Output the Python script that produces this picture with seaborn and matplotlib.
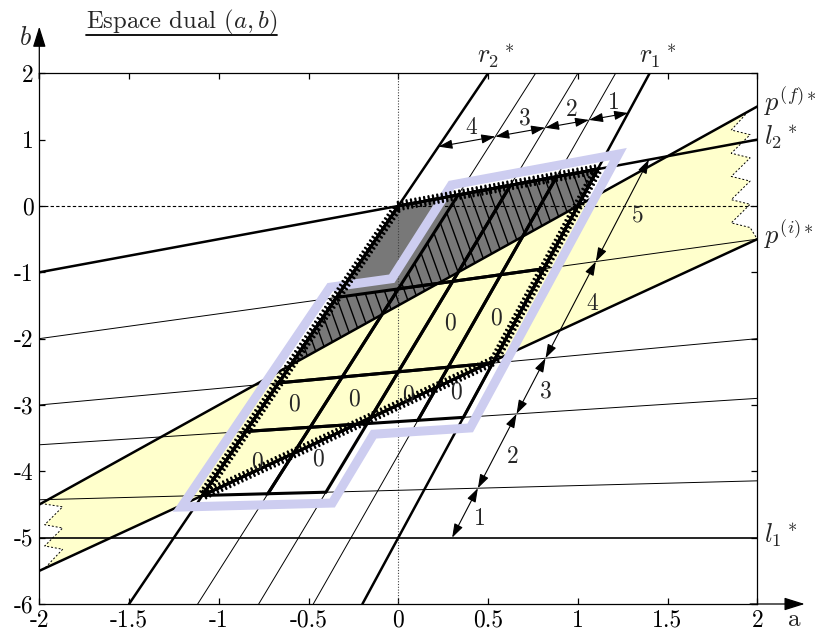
import numpy as np
import pandas as pd
import seaborn as sns
import matplotlib.pyplot as plt
import matplotlib.patheffects as pe
from matplotlib.patches import Polygon
from matplotlib.lines import Line2D
from matplotlib.collections import LineCollection

# === 1. Droites duales : b = pente * a + ordonnee ===
# faisceau r : r1*, ..., r2*
r_slope = [5.0, 4.75, 4.5, 4.25, 4.0]
r_icpt = [-5.0, -3.75, -2.5, -1.25, 0.0]
# faisceau l : l1*, ..., l2*
l_slope = [0.0, 0.0714, 0.175, 0.25, 0.375, 0.5]
l_icpt = [-5.0, -4.286, -3.25, -2.5, -1.25, 0.0]
# bande p(i)* / p(f)*
pf_line = [1.5, -1.5]
pi_line = [1.25, -3.0]
# droites qui portent les fleches cotees
r_arrow_line = [0.48, 0.787]
l_arrow_line = [5.2, -6.56]
r_arrow_labels = ["1", "2", "3", "4"]
l_arrow_labels = ["1", "2", "3", "4", "5"]

# cellules de la grille (bande r, bande l) et cellules marquees "0"
cells = [(3, 1), (2, 1),
         (0, 2), (1, 2), (2, 2), (3, 2),
         (0, 3), (1, 3), (2, 3), (3, 3),
         (0, 4), (1, 4), (2, 4)]
zero_cells = [(3, 1), (2, 1), (0, 2), (1, 2), (2, 2), (3, 2), (0, 3), (1, 3)]
# contour de la grille (indice r, indice l)
outline = [(4, 1), (2, 1), (2, 2), (0, 2), (0, 5), (3, 5), (3, 4), (4, 4)]

a_ticks = [-2, -1.5, -1, -0.5, 0, 0.5, 1, 1.5, 2]
a_labels = ["-2", "-1.5", "-1", "-0.5", "0", "0.5", "1", "1.5", "2"]
b_ticks = [-6, -5, -4, -3, -2, -1, 0, 1, 2]
b_labels = ["-6", "-5", "-4", "-3", "-2", "-1", "0", "1", "2"]


def meet(m1, c1, m2, c2):
    a = (c2 - c1) / (m1 - m2)
    return (a, m1 * a + c1)


def rl(i, j):
    return meet(r_slope[i], r_icpt[i], l_slope[j], l_icpt[j])


def pf(a):
    return pf_line[0] * a + pf_line[1]


def pi(a):
    return pi_line[0] * a + pi_line[1]


sns.set_style("ticks")
plt.rcParams["font.family"] = ["cmr10", "DejaVu Serif"]
plt.rcParams["mathtext.fontset"] = "cm"
plt.rcParams["axes.unicode_minus"] = False
plt.rcParams["axes.linewidth"] = 0.9
plt.rcParams["axes.edgecolor"] = "black"

FS = 17

fig = plt.figure(figsize=(8.16, 6.37), dpi=100)
ax = fig.add_axes([39.3 / 816, 33 / 637, 718 / 816, 530.7 / 637])

# === 2. Familles de droites (seaborn) ===
rows = []
for k, (m, c) in enumerate(zip(r_slope, r_icpt)):
    for b in (-6, 2):
        rows.append((f"r{k}", (b - c) / m, b))
for k, (m, c) in enumerate(zip(l_slope, l_icpt)):
    for a in (-2, 2):
        rows.append((f"l{k}", a, m * a + c))
for name, (m, c) in [("pf", pf_line), ("pi", pi_line)]:
    for a in (-2, 2):
        rows.append((name, a, m * a + c))
lines = pd.DataFrame(rows, columns=["name", "a", "b"])

thick = ["r0", "r4", "l5", "pf", "pi"]
medium = ["l0"]
thin = lines[~lines["name"].isin(thick + medium)]
for sub, lw, z in [(thin, 0.7, 3), (lines[lines["name"].isin(medium)], 1.2, 3.2),
                   (lines[lines["name"].isin(thick)], 1.8, 3.5)]:
    sns.lineplot(data=sub, x="a", y="b", units="name", estimator=None, sort=False,
                 color="black", linewidth=lw, zorder=z, ax=ax, legend=False)

ax.set_xlim(-2, 2)
ax.set_ylim(-6, 2)
ax.set_xlabel("")
ax.set_ylabel("")

# === 3. Bande jaune avec bords dechires ===
b0 = pf(1.95)
right_zig = [(1.95, b0)]
for k in range(1, 6):
    right_zig += [(1.855, b0 - 0.35 * k + 0.07), (1.96, b0 - 0.35 * k)]
right_zig.append((2.0, pi(2.0)))
b0 = pf(-1.99)
left_zig = [(-1.99, b0)]
for k in range(3):
    left_zig += [(-1.87, b0 - 0.32 * k - 0.05), (-1.97, b0 - 0.32 * (k + 1))]
left_zig[-1] = (-1.97, pi(-1.97))
band = [left_zig[0]] + right_zig + left_zig[::-1][:-1]
ax.add_patch(Polygon(band, closed=True, facecolor="#ffffcc", edgecolor="none", zorder=1))
for zz in (right_zig, left_zig):
    zz = np.array(zz)
    ax.plot(zz[:, 0], zz[:, 1], color="black", lw=0.7, ls=(0, (2, 2)), zorder=1.2)

# === 4. Region grise et hachures ===
g_low = meet(r_slope[4], r_icpt[4], *pf_line)
g_right = meet(r_slope[0], r_icpt[0], *pf_line)
gray = [g_low, rl(4, 5), rl(0, 5), g_right]
ax.add_patch(Polygon(gray, closed=True, facecolor="#787878", edgecolor="none", zorder=1.5))
hatch_poly = [g_low, rl(4, 4), rl(3, 4), rl(3, 5), rl(0, 5), g_right]
hp = Polygon(hatch_poly, closed=True, fill=False, lw=0, zorder=1.6)
ax.add_patch(hp)
segs = []
for a0 in np.arange(-1.2, 2.0, 0.056):
    segs.append([(a0 + 1.0 / -7.5, 1.0), (a0 + -3.0 / -7.5, -3.0)])
lc = LineCollection(segs, colors="black", linewidths=1.0, zorder=1.6)
ax.add_collection(lc)
lc.set_clip_path(hp)

# pointilles des axes a=0 et b=0
ax.axvline(0, color="0.25", lw=0.8, ls=(0, (1, 1.5)), zorder=2)
ax.axhline(0, color="black", lw=0.8, ls=(0, (3, 2)), zorder=2)

# === 5. Grille epaisse et zeros ===
for i, j in cells:
    quad = [rl(i, j), rl(i + 1, j), rl(i + 1, j + 1), rl(i, j + 1)]
    ax.add_patch(Polygon(quad, closed=True, fill=False, edgecolor="black",
                         lw=2.2, joinstyle="miter", zorder=4))
for i, j in zero_cells:
    quad = np.array([rl(i, j), rl(i + 1, j), rl(i + 1, j + 1), rl(i, j + 1)])
    ca, cb = quad.mean(axis=0)
    ax.text(ca, cb, "0", ha="center", va="center", fontsize=FS, zorder=8)

# contour mauve decale vers l'exterieur
P = ax.transData.transform(np.array([rl(i, j) for i, j in outline]))
n = len(P)
area = 0.5 * np.sum(P[:, 0] * np.roll(P[:, 1], -1) - np.roll(P[:, 0], -1) * P[:, 1])
sgn = 1 if area > 0 else -1
offs = []
for k in range(n):
    p, q = P[k], P[(k + 1) % n]
    u = (q - p) / np.linalg.norm(q - p)
    offs.append((p + 11 * sgn * np.array([u[1], -u[0]]), u))
ring = []
for k in range(n):
    (p1, u1), (p2, u2) = offs[k - 1], offs[k]
    s, t = np.linalg.solve(np.array([u1, -u2]).T, p2 - p1)
    ring.append(p1 + s * u1)
ring = ax.transData.inverted().transform(np.array(ring))
ax.add_patch(Polygon(ring, closed=True, fill=False, edgecolor="#cdcdf0",
                     lw=6.5, joinstyle="miter", zorder=5))

# quadrilatere a traits hachures
quad = [meet(r_slope[4], r_icpt[4], *pi_line), meet(r_slope[0], r_icpt[0], *pi_line),
        rl(0, 5), rl(4, 5)]
quad = np.array(quad + [quad[0]])
ax.plot(quad[:, 0], quad[:, 1], color="black", lw=2.0, zorder=6,
        solid_joinstyle="miter",
        path_effects=[pe.withTickedStroke(angle=90, spacing=3.2, length=0.95, linewidth=1.6),
                      pe.withTickedStroke(angle=-90, spacing=3.2, length=0.95, linewidth=1.6),
                      pe.Normal()])

# === 6. Fleches cotees ===
arrow_kw = dict(arrowstyle="<|-|>,head_length=0.6,head_width=0.2", color="black",
                lw=0.8, shrinkA=0, shrinkB=0, mutation_scale=14)
pts = [meet(r_slope[k], r_icpt[k], *r_arrow_line) for k in range(len(r_slope))]
for k, lab in enumerate(r_arrow_labels):
    ax.annotate("", xy=pts[k + 1], xytext=pts[k], arrowprops=arrow_kw, zorder=7)
    mid = ((pts[k][0] + pts[k + 1][0]) / 2, (pts[k][1] + pts[k + 1][1]) / 2)
    ax.annotate(lab, xy=mid, xytext=(3.5, 10), textcoords="offset points",
                ha="center", va="center", fontsize=FS, zorder=8)
pts = [meet(l_slope[k], l_icpt[k], *l_arrow_line) for k in range(len(l_slope))]
fracs = [0.5, 0.5, 0.5, 0.62, 0.5]
for k, lab in enumerate(l_arrow_labels):
    ax.annotate("", xy=pts[k + 1], xytext=pts[k], arrowprops=arrow_kw, zorder=7)
    f = fracs[k]
    mid = (pts[k][0] + f * (pts[k + 1][0] - pts[k][0]), pts[k][1] + f * (pts[k + 1][1] - pts[k][1]))
    ax.annotate(lab, xy=mid, xytext=(11, -4), textcoords="offset points",
                ha="center", va="center", fontsize=FS, zorder=8)

# === 7. Etiquettes des droites ===
ax.text((2 - r_icpt[4]) / r_slope[4] - 0.06, 2.155, r"$r_2{}^*$", fontsize=19,
        ha="left", va="baseline", clip_on=False)
ax.text((2 - r_icpt[0]) / r_slope[0] - 0.06, 2.155, r"$r_1{}^*$", fontsize=19,
        ha="left", va="baseline", clip_on=False)
for lab, yb in [(r"$p^{(f)*}$", pf(2)), (r"$l_2{}^*$", l_slope[5] * 2 + l_icpt[5]),
                (r"$p^{(i)*}$", pi(2)), (r"$l_1{}^*$", l_icpt[0])]:
    ax.text(2.04, yb - 0.07, lab, fontsize=19, ha="left", va="baseline", clip_on=False)

# === 8. Axes ===
ax.set_xticks(a_ticks)
ax.set_xticklabels(a_labels)
ax.set_yticks(b_ticks)
ax.set_yticklabels(b_labels)
ax.tick_params(direction="in", top=True, right=True, length=4.5, width=0.9,
               labelsize=FS, pad=4, colors="black")
for sp in ax.spines.values():
    sp.set_visible(True)
    sp.set_color("black")
    sp.set_zorder(9)
axis_arrow = dict(arrowstyle="-|>,head_length=0.7,head_width=0.22", color="black",
                  lw=0.9, shrinkA=0, shrinkB=0, mutation_scale=18)
ax.annotate("", xy=(0, 1.088), xytext=(0, 0.99), xycoords="axes fraction",
            arrowprops=axis_arrow, annotation_clip=False)
ax.annotate("", xy=(1.066, 0), xytext=(0.99, 0), xycoords="axes fraction",
            arrowprops=axis_arrow, annotation_clip=False)
ax.text(-0.02, 1.066, r"$b$", transform=ax.transAxes, fontsize=19, ha="center", va="center")
ax.text(1.052, -0.03, "a", transform=ax.transAxes, fontsize=18, ha="center", va="center")

title = fig.text(86 / 816, 1 - 28 / 637, r"Espace dual $(a,b)$", fontsize=17.8,
                 ha="left", va="baseline")
fig.canvas.draw()
bb = title.get_window_extent()
fig.add_artist(Line2D([bb.x0 / 816, bb.x1 / 816], [1 - 35 / 637, 1 - 35 / 637],
                      transform=fig.transFigure, color="black", lw=1.3))

fig.savefig("out.png", dpi=100)
plt.close(fig)
